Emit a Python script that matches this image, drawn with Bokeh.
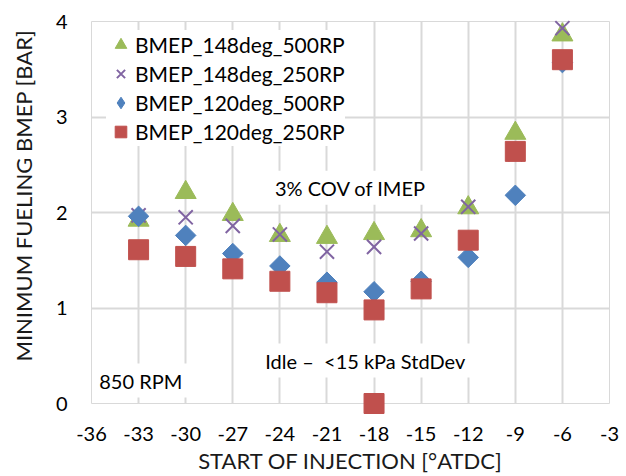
import math
from bokeh.plotting import figure
from bokeh.models import Label, Legend, LegendItem, FixedTicker
from bokeh.embed import file_html
from bokeh.resources import INLINE

# ---- data ----
soi = [-33, -30, -27, -24, -21, -18, -15, -12, -9, -6]
bmep_148deg_500rp = [1.92, 2.21, 1.98, 1.76, 1.74, 1.78, 1.81, 2.05, 2.83, 3.86]
bmep_148deg_250rp = [1.97, 1.95, 1.86, 1.77, 1.59, 1.64, 1.78, 2.06, 2.61, 3.93]
bmep_120deg_500rp = [1.96, 1.76, 1.57, 1.44, 1.27, 1.17, 1.28, 1.53, 2.18, 3.57]
soi_120deg_250rp = [-33, -30, -27, -24, -21, -18, -15, -12, -9, -6, -18]
bmep_120deg_250rp = [1.61, 1.54, 1.41, 1.28, 1.16, 0.98, 1.20, 1.71, 2.64, 3.60, 0.0]

series_names = ["BMEP_148deg_500RP", "BMEP_148deg_250RP", "BMEP_120deg_500RP", "BMEP_120deg_250RP"]
x_ticks = [-36, -33, -30, -27, -24, -21, -18, -15, -12, -9, -6, -3]
y_ticks = [0, 1, 2, 3, 4]
x_title = "START OF INJECTION [°ATDC]"
y_title = "MINIMUM FUELING BMEP [BAR]"
notes = ["3% COV of IMEP", "Idle \u2013\u00a0\u00a0<15 kPa StdDev", "850 RPM"]

FONT = "Lato"
GRID = "#D9D9D9"
GREEN, PURPLE, BLUE, RED = "#9BBB59", "#8064A2", "#4F81BD", "#C0504D"

p = figure(width=626, height=476, x_range=(-36, -3), y_range=(0, 4),
           output_backend="svg", toolbar_location=None,
           min_border_left=91, min_border_right=17, min_border_top=21, min_border_bottom=73)
p.background_fill_color = "white"
p.border_fill_color = "white"
p.outline_line_color = GRID
p.outline_line_width = 1

for ax in (p.xaxis[0], p.yaxis[0]):
    ax.axis_line_color = None
    ax.major_tick_line_color = None
    ax.minor_tick_line_color = None
    ax.major_tick_in = 0
    ax.major_tick_out = 0
    ax.major_label_text_font = FONT
    ax.major_label_text_font_size = "20px"
    ax.major_label_text_color = "black"
    ax.axis_label_text_font = FONT
    ax.axis_label_text_font_size = "22px"
    ax.axis_label_text_font_style = "normal"
    ax.axis_label_text_color = "#1A1A1A"

p.xaxis.ticker = FixedTicker(ticks=x_ticks)
p.yaxis.ticker = FixedTicker(ticks=y_ticks)
p.xaxis.major_label_overrides = {t: str(t) for t in x_ticks}
p.yaxis.major_label_overrides = {t: str(t) for t in y_ticks}
p.xaxis.axis_label = x_title
p.yaxis.axis_label = "\u00a0" * 6 + y_title
p.xaxis.major_label_standoff = 23
p.xaxis.axis_label_standoff = 3
p.yaxis.major_label_standoff = 24
p.yaxis.axis_label_standoff = 16

p.xgrid.ticker = FixedTicker(ticks=x_ticks)
p.ygrid.ticker = FixedTicker(ticks=y_ticks)
p.grid.grid_line_color = GRID
p.grid.grid_line_width = 2

r1 = p.scatter(soi, bmep_148deg_500rp, marker="triangle", size=21,
               fill_color=GREEN, line_color=GREEN, level="overlay")
r2 = p.scatter(soi, bmep_148deg_250rp, marker="x", size=20,
               line_color=PURPLE, line_width=2, level="overlay")
r3 = p.scatter(soi, bmep_120deg_500rp, marker="square", size=14.5, angle=math.pi / 4,
               fill_color=BLUE, line_color=BLUE, level="overlay")
r3_key = p.scatter(soi, bmep_120deg_500rp, marker="diamond", size=20,
                   fill_color=BLUE, line_color=BLUE, visible=False)
r4 = p.scatter(soi_120deg_250rp, bmep_120deg_250rp, marker="square", size=20,
               fill_color=RED, line_color=RED, level="overlay")

legend = Legend(items=[LegendItem(label=n, renderers=[r]) for n, r in zip(series_names, [r1, r2, r3_key, r4])],
                location=(15, 257), glyph_width=29, glyph_height=29, label_height=29,
                spacing=0, padding=4, label_standoff=0, label_text_font=FONT,
                label_text_font_size="21px", label_text_color="black",
                background_fill_color="white", background_fill_alpha=1.0,
                border_line_color=None, inactive_fill_alpha=0.0)
p.add_layout(legend)

note_pos = [(-19.5, 2.26), (-18.56, 0.45), (-32.86, 0.24)]
for t, (nx, ny) in zip(notes, note_pos):
    p.add_layout(Label(x=nx, y=ny, text=t, text_align="center", text_baseline="middle",
                       text_font=FONT, text_font_size="20px", text_color="black",
                       background_fill_color="white", background_fill_alpha=1.0, padding=5))

open("out.html", "w").write(file_html(p, INLINE))
